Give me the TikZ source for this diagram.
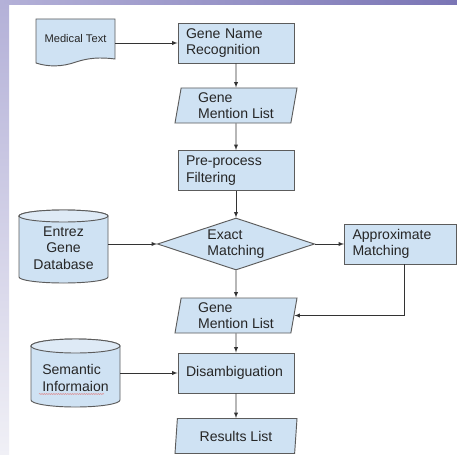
\documentclass[tikz,border=0pt]{standalone}
\usepackage{fontspec}
\setmainfont{Liberation Sans}
\usetikzlibrary{shapes.geometric,decorations.pathmorphing}
\definecolor{boxblue}{HTML}{CFE2F3}
\definecolor{capblue}{HTML}{DEEAF6}
\definecolor{edgegray}{HTML}{5C5C5C}
\definecolor{linedark}{HTML}{333333}
\definecolor{bandleft}{HTML}{B4B1D8}
\definecolor{bandright}{HTML}{7A75B5}
\definecolor{stripbottom}{HTML}{F0F0F6}
\definecolor{spellred}{HTML}{E07070}

\tikzset{
  proc/.style={rectangle, draw=edgegray, fill=boxblue, line width=0.8pt,
    minimum width=3.48cm, minimum height=1.2cm, text width=3.0cm,
    inner xsep=0.24cm, align=left},
  iolist/.style={trapezium, trapezium left angle=77, trapezium right angle=103,
    trapezium stretches body, draw=edgegray, fill=boxblue, line width=0.8pt,
    minimum width=3.66cm, minimum height=1.05cm, inner sep=0pt, align=left},
  decide/.style={diamond, aspect=3, draw=edgegray, fill=boxblue, line width=0.8pt,
    minimum width=4.71cm, minimum height=1.56cm, inner sep=0pt, align=left},
  dbbody/.style={draw=edgegray, fill=boxblue, line width=0.8pt},
  dbcap/.style={draw=edgegray, fill=capblue, line width=0.8pt},
  conn/.style={draw=linedark, line width=0.6pt, -latex},
}

\begin{document}
\begin{tikzpicture}[x=0.03cm,y=-0.03cm,
    every node/.style={font=\fontsize{12}{14.2}\selectfont, text=black!85}]
  \useasboundingbox (0,0) rectangle (457,454);
  \fill[white] (0,0) rectangle (457,454);
  \shade[left color=bandleft, right color=bandright] (0,0) rectangle (457,5);
  \shade[top color=bandleft, bottom color=stripbottom] (0,5) rectangle (9,454);

  % document shape
  \filldraw[dbbody] (36,19) -- (115,19) -- (115,59)
    .. controls (100,57) and (88,58) .. (76,62)
    .. controls (62,67) and (48,67) .. (36,63) -- cycle;
  % database shapes
  \filldraw[dbbody] (19,216) -- (19,277)
    arc[start angle=180, end angle=360, x radius=1.335cm, y radius=0.18cm]
    -- (108,216) arc[start angle=0, end angle=180, x radius=1.335cm, y radius=0.18cm] -- cycle;
  \filldraw[dbcap] (63.5,216) ellipse[x radius=1.335cm, y radius=0.18cm];
  \filldraw[dbbody] (31,346) -- (31,400)
    arc[start angle=180, end angle=360, x radius=1.335cm, y radius=0.21cm]
    -- (120,346) arc[start angle=0, end angle=180, x radius=1.335cm, y radius=0.21cm] -- cycle;
  \filldraw[dbcap] (75.5,346) ellipse[x radius=1.335cm, y radius=0.21cm];

  \node (med) [minimum width=2.37cm, minimum height=1.2cm, font=\fontsize{9.5}{11}\selectfont] at (75.5,39) {Medical Text};
  \node (gnr) [proc] at (236,43) {Gene Name\\Recognition};
  \node (gml1) [iolist] at (236,105.5) {Gene\\Mention List};
  \node (ppf) [proc] at (236,170.5) {Pre-process\\Filtering};
  \node (exact) [decide] at (236,244) {Exact\\Matching};
  \node (entrez) [minimum width=2.67cm, minimum height=2.19cm, text width=2.4cm, align=center] at (63.5,248) {Entrez\\Gene\\Database};
  \node (approx) [proc, minimum width=3.36cm, text width=2.88cm] at (400.5,244) {Approximate\\Matching};
  \node (gml2) [iolist] at (236,315.5) {Gene\\Mention List};
  \node (dis) [proc] at (236,373) {Disambiguation};
  \node (sem) [minimum width=2.67cm, minimum height=1.6cm, align=left] at (75.5,378) {Semantic\\Informaion};
  \node (res) [iolist] at (236,436) {Results List};

  % spell-check mark
  \draw[spellred, line width=0.4pt, decorate,
    decoration={snake, amplitude=0.35pt, segment length=2pt}] (39,394) -- (104,394);

  \draw[conn] (med.east |- gnr.west) -- (gnr.west);
  \draw[conn] (gnr) -- (gml1);
  \draw[conn] (gml1) -- (ppf);
  \draw[conn] (ppf) -- (exact);
  \draw[conn] (entrez.east |- exact.west) -- (exact.west);
  \draw[conn] (exact) -- (approx);
  \draw[conn] (exact) -- (gml2);
  \draw[conn] ([xshift=0.105cm]approx.south) |- (gml2.east);
  \draw[conn] (gml2) -- (dis);
  \draw[conn] (sem.east |- dis.west) -- (dis.west);
  \draw[conn] (dis) -- (res);
\end{tikzpicture}
\end{document}
